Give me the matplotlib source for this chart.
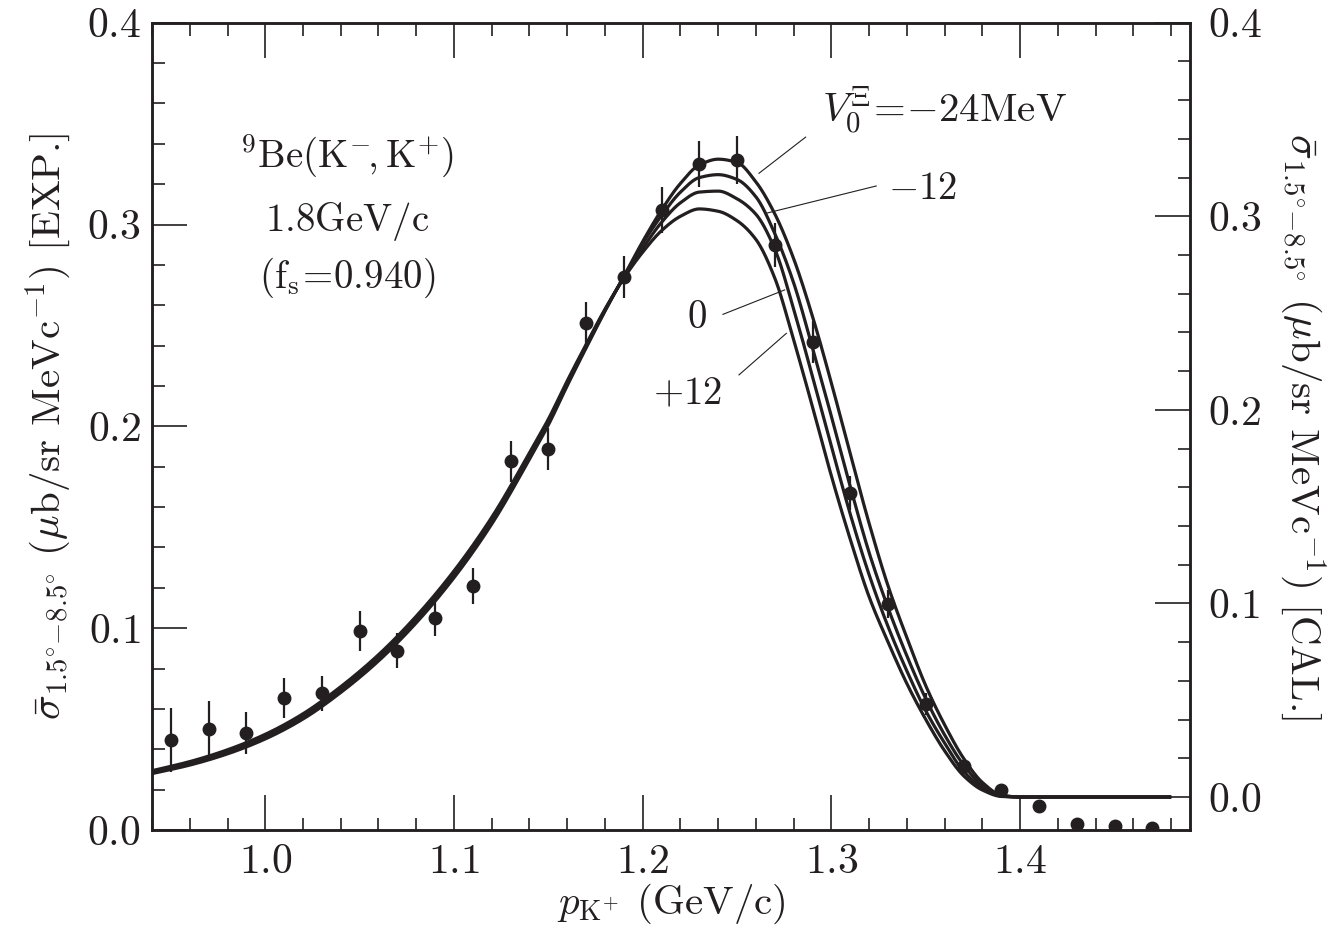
import numpy as np
import matplotlib
matplotlib.use("Agg")
import matplotlib.pyplot as plt
from matplotlib.ticker import MultipleLocator

plt.rcParams["font.family"] = "cmr10"
plt.rcParams["mathtext.fontset"] = "cm"
plt.rcParams["axes.formatter.use_mathtext"] = True

INK = "#231f20"

# Measured spectrum  9Be(K-,K+) at 1.8 GeV/c
p_exp = [0.95, 0.97, 0.99, 1.01, 1.03, 1.05, 1.07, 1.09, 1.11, 1.13, 1.15,
         1.17, 1.19, 1.21, 1.23, 1.25, 1.27, 1.29, 1.31, 1.33, 1.35, 1.37,
         1.39, 1.41, 1.43, 1.45, 1.47]
sig_exp = [0.0446, 0.0503, 0.0482, 0.0655, 0.0677, 0.0987, 0.0888, 0.1051,
           0.1210, 0.1827, 0.1886, 0.2510, 0.2740, 0.3070, 0.3300, 0.3320,
           0.2900, 0.2420, 0.1670, 0.1120, 0.0624, 0.0317, 0.0198, 0.0120,
           0.0030, 0.0020, 0.0010]
err_exp = [0.0160, 0.0135, 0.0105, 0.0099, 0.0088, 0.0100, 0.0086, 0.0090,
           0.0090, 0.0102, 0.0104, 0.0106, 0.0104, 0.0114, 0.0114, 0.0121,
           0.0109, 0.0104, 0.0084, 0.0069, 0.0054, 0.0040, 0.0020, 0.0,
           0.0, 0.0, 0.0]

# Calculated spectra for several Xi-nucleus potential depths V0
p_calc = [0.94, 0.96, 0.98, 1.00, 1.02, 1.04, 1.06, 1.08, 1.10, 1.12, 1.14,
          1.15, 1.16, 1.17, 1.18, 1.19, 1.20, 1.21, 1.22, 1.23, 1.24, 1.25,
          1.26, 1.27, 1.28, 1.29, 1.30, 1.31, 1.32, 1.33, 1.34, 1.35, 1.36,
          1.37, 1.38, 1.39, 1.40, 1.48]
calc_m24 = [0.0121, 0.0165, 0.0223, 0.0300, 0.0403, 0.0540, 0.0703, 0.0900,
            0.1133, 0.1410, 0.1745, 0.1922, 0.2125, 0.2320, 0.2510, 0.2690,
            0.2870, 0.3033, 0.3170, 0.3265, 0.3295, 0.3278, 0.3177, 0.3012,
            0.2780, 0.2481, 0.2137, 0.1770, 0.1412, 0.1090, 0.0822, 0.0574,
            0.0372, 0.0200, 0.0075, 0.0010, 0.0, 0.0]
calc_m12 = [0.0126, 0.0171, 0.0230, 0.0308, 0.0412, 0.0550, 0.0714, 0.0911,
            0.1145, 0.1422, 0.1756, 0.1932, 0.2133, 0.2326, 0.2513, 0.2688,
            0.2860, 0.3004, 0.3125, 0.3200, 0.3215, 0.3190, 0.3100, 0.2910,
            0.2655, 0.2319, 0.1965, 0.1602, 0.1261, 0.0977, 0.0728, 0.0507,
            0.0320, 0.0166, 0.0060, 0.0008, 0.0, 0.0]
calc_0 = [0.0131, 0.0177, 0.0237, 0.0316, 0.0421, 0.0560, 0.0724, 0.0923,
          0.1156, 0.1433, 0.1767, 0.1942, 0.2142, 0.2332, 0.2517, 0.2685,
          0.2835, 0.2969, 0.3070, 0.3125, 0.3130, 0.3090, 0.3010, 0.2830,
          0.2520, 0.2170, 0.1810, 0.1460, 0.1147, 0.0880, 0.0650, 0.0445,
          0.0278, 0.0133, 0.0048, 0.0005, 0.0, 0.0]
calc_p12 = [0.0136, 0.0183, 0.0244, 0.0324, 0.0430, 0.0570, 0.0735, 0.0934,
            0.1168, 0.1445, 0.1778, 0.1952, 0.2150, 0.2338, 0.2520, 0.2680,
            0.2815, 0.2926, 0.3000, 0.3038, 0.3026, 0.2977, 0.2880, 0.2680,
            0.2360, 0.2014, 0.1657, 0.1330, 0.1033, 0.0800, 0.0585, 0.0400,
            0.0238, 0.0110, 0.0036, 0.0003, 0.0, 0.0]


def pchip(x, y, xs):
    """Shape-preserving cubic Hermite curve through (x, y)."""
    x = np.asarray(x, float)
    y = np.asarray(y, float)
    h = np.diff(x)
    d = np.diff(y) / h
    m = np.zeros_like(y)
    for k in range(1, len(x) - 1):
        if d[k - 1] * d[k] > 0:
            w1 = 2 * h[k] + h[k - 1]
            w2 = h[k] + 2 * h[k - 1]
            m[k] = (w1 + w2) / (w1 / d[k - 1] + w2 / d[k])
    m[0], m[-1] = d[0], d[-1]
    i = np.clip(np.searchsorted(x, xs) - 1, 0, len(h) - 1)
    t = (xs - x[i]) / h[i]
    h00 = 2 * t**3 - 3 * t**2 + 1
    h10 = t**3 - 2 * t**2 + t
    h01 = -2 * t**3 + 3 * t**2
    h11 = t**3 - t**2
    return h00 * y[i] + h10 * h[i] * m[i] + h01 * y[i + 1] + h11 * h[i] * m[i + 1]


fig = plt.figure(figsize=(13.37, 9.38), dpi=100)
ax = fig.add_axes([0.1137, 0.1151, 0.7764, 0.8607])
ax2 = ax.twinx()

# Theory curves on the right-hand [CAL.] scale
pgrid = np.linspace(p_calc[0], p_calc[-1], 1200)
for curve in (calc_m24, calc_m12, calc_0, calc_p12):
    ax2.plot(pgrid, pchip(p_calc, curve, pgrid), color=INK, lw=2.3,
             solid_capstyle="butt")

# Data on the left-hand [EXP.] scale, drawn above the curves
ax.set_zorder(ax2.get_zorder() + 1)
ax.patch.set_visible(False)
ax.errorbar(p_exp, sig_exp, yerr=err_exp, fmt="o", color=INK, ms=9,
            elinewidth=1.6, capsize=0)

ax.set_xlim(0.94, 1.49)
ax.set_ylim(0.0, 0.4)
ax2.set_ylim(-0.01705, 0.4)

fs_tick = 30
fs = 28
fs_lab = 29.5
for a in (ax, ax2):
    for s in a.spines.values():
        s.set_linewidth(1.8)
        s.set_color(INK)
ax.xaxis.set_major_locator(MultipleLocator(0.1))
ax.xaxis.set_minor_locator(MultipleLocator(0.02))
ax.yaxis.set_major_locator(MultipleLocator(0.1))
ax.yaxis.set_minor_locator(MultipleLocator(0.02))
ax2.yaxis.set_major_locator(MultipleLocator(0.1))
ax2.yaxis.set_minor_locator(MultipleLocator(0.02))

ax.tick_params(axis="x", which="both", direction="in", top=True, bottom=True,
               colors=INK)
ax.tick_params(axis="y", which="both", direction="in", left=True, right=False,
               colors=INK)
ax.tick_params(which="major", length=25, width=1.2, labelsize=fs_tick)
ax.tick_params(which="minor", length=9, width=1.2)
ax.tick_params(axis="x", which="major", pad=10)
ax.tick_params(axis="y", which="major", pad=8)
ax2.tick_params(axis="y", which="both", direction="in", colors=INK)
ax2.tick_params(which="major", length=25, width=1.2, labelsize=fs_tick, pad=13)
ax2.tick_params(which="minor", length=9, width=1.2)

ax.set_xlabel(r"$p_{\mathrm{K}^{+}}$ (GeV/c)", fontsize=fs_lab, color=INK,
              labelpad=0)
ax.set_ylabel(r"$\bar{\sigma}_{1.5^{\circ}\!-\!8.5^{\circ}}$ $(\mu$b/sr MeVc$^{-1})$ [EXP.]",
              fontsize=fs_lab, color=INK, labelpad=9)
ax2.set_ylabel(r"$\bar{\sigma}_{1.5^{\circ}\!-\!8.5^{\circ}}$ $(\mu$b/sr MeVc$^{-1})$ [CAL.]",
               fontsize=fs_lab, color=INK, rotation=270, labelpad=47)

# Reaction description
ax.text(1.0433, 0.3285, r"$^{9}\mathrm{Be}(\mathrm{K}^{-}\!,\mathrm{K}^{+})$",
        fontsize=fs, ha="center", va="baseline", color=INK)
ax.text(1.0433, 0.2968, r"$1.8\mathrm{GeV/c}$", fontsize=fs, ha="center",
        va="baseline", color=INK)
ax.text(1.0433, 0.2686, r"$(\mathrm{f_{s}}\!=\!0.940)$", fontsize=fs,
        ha="center", va="baseline", color=INK)

# Curve labels with leader lines
ax.text(1.2948, 0.3504, r"$V_{0}^{\Xi}\!=\!{-}24\mathrm{MeV}$", fontsize=fs_lab,
        ha="left", va="baseline", color=INK)
ax.text(1.3297, 0.3177, r"$-12$", fontsize=fs, ha="left", va="center",
        color=INK)
ax.text(1.2286, 0.2537, r"$0$", fontsize=fs, ha="center", va="center",
        color=INK)
ax.text(1.2238, 0.2156, r"$+12$", fontsize=fs, ha="center", va="center",
        color=INK)
leaders = [((1.2863, 1.2616), (0.3433, 0.3254)),
           ((1.3237, 1.2655), (0.3191, 0.3056)),
           ((1.2425, 1.2752), (0.2555, 0.2676)),
           ((1.2510, 1.2761), (0.2255, 0.2461))]
for xs, ys in leaders:
    ax.plot(xs, ys, color=INK, lw=0.8)

fig.savefig("out.png", dpi=100, facecolor="white")
